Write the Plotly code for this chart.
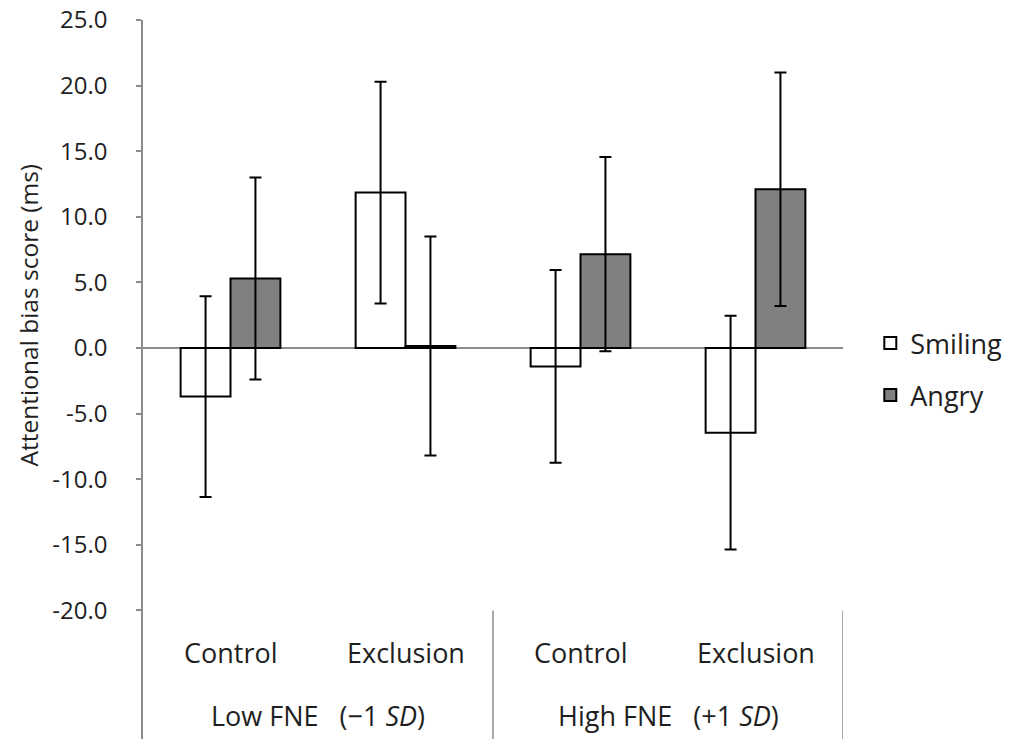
import plotly.graph_objects as go

conditions = ["Control", "Exclusion", "Control", "Exclusion"]
groups = ["Low FNE\u00a0\u00a0 (\u22121 <i>SD</i>)", "High FNE\u00a0\u00a0 (+1 <i>SD</i>)"]
series_names = ["Smiling", "Angry"]
smiling = [-3.7, 11.85, -1.4, -6.45]
smiling_err = [7.65, 8.45, 7.35, 8.9]
angry = [5.3, 0.15, 7.15, 12.1]
angry_err = [7.7, 8.35, 7.4, 8.9]
y_ticks = [-20, -15, -10, -5, 0, 5, 10, 15, 20, 25]
y_tick_labels = ["-20.0", "-15.0", "-10.0", "-5.0", "0.0", "5.0", "10.0", "15.0", "20.0", "25.0"]
y_title = "Attentional bias score (ms)"

FONT = "Open Sans"
TXT = "#1f1f1f"
AX = "#8c8c8c"

xpos = list(range(len(conditions)))

fig = go.Figure()
fig.add_trace(go.Bar(
    x=xpos, y=smiling, name=series_names[0], legendgroup="s",
    marker=dict(color="white", line=dict(color="black", width=2)),
    error_y=dict(type="data", array=smiling_err, visible=True, color="black", thickness=2, width=6),
))
fig.add_trace(go.Bar(
    x=xpos, y=angry, name=series_names[1], legendgroup="a",
    marker=dict(color="#808080", line=dict(color="black", width=2)),
    error_y=dict(type="data", array=angry_err, visible=True, color="black", thickness=2, width=6),
))

y_bottom = -29.8
fig.update_layout(
    width=1013, height=739,
    margin=dict(l=143, r=170, t=20, b=0, autoexpand=False),
    paper_bgcolor="white", plot_bgcolor="white",
    barmode="group", bargap=0.43, bargroupgap=0,
    font=dict(family=FONT, size=27, color=TXT),
    showlegend=True,
    legend=dict(x=1.039, y=0.514, xanchor="left", yanchor="middle",
                font=dict(family=FONT, size=27, color=TXT), tracegroupgap=14,
                bgcolor="rgba(0,0,0,0)"),
    xaxis=dict(range=[-0.5, 3.5], showticklabels=False, showgrid=False, zeroline=False,
               showline=False, ticks="", automargin=False),
    yaxis=dict(range=[y_bottom, 25], tickvals=y_ticks, ticktext=y_tick_labels,
               showgrid=False, zeroline=True, zerolinecolor=AX, zerolinewidth=1.5,
               showline=True, linecolor=AX, linewidth=1.5,
               ticks="outside", ticklen=5, tickcolor=AX, tickwidth=1.5,
               ticklabelstandoff=24, ticklabeloverflow="allow", automargin=False,
               tickfont=dict(family=FONT, size=24, color=TXT)),
)

for i, c in enumerate(conditions):
    fig.add_annotation(x=i, y=-23.2, xref="x", yref="y", text=c, showarrow=False,
                       font=dict(family=FONT, size=27, color=TXT))
for j, g in enumerate(groups):
    fig.add_annotation(x=2 * j + 0.5, y=-28.0, xref="x", yref="y", text=g, showarrow=False,
                       font=dict(family=FONT, size=27, color=TXT))
for xb in [1.5, 3.5]:
    fig.add_shape(type="line", x0=xb, x1=xb, y0=-20, y1=y_bottom, xref="x", yref="y",
                  line=dict(color=AX, width=1.5))

fig.add_annotation(x=-0.164, y=2.5, xref="paper", yref="y", text=y_title, textangle=-90,
                   xanchor="center", yanchor="middle",
                   showarrow=False, font=dict(family=FONT, size=24.5, color=TXT))

fig.write_html("out.html", config={"displayModeBar": False},
               post_script="document.body.style.margin='0';")
